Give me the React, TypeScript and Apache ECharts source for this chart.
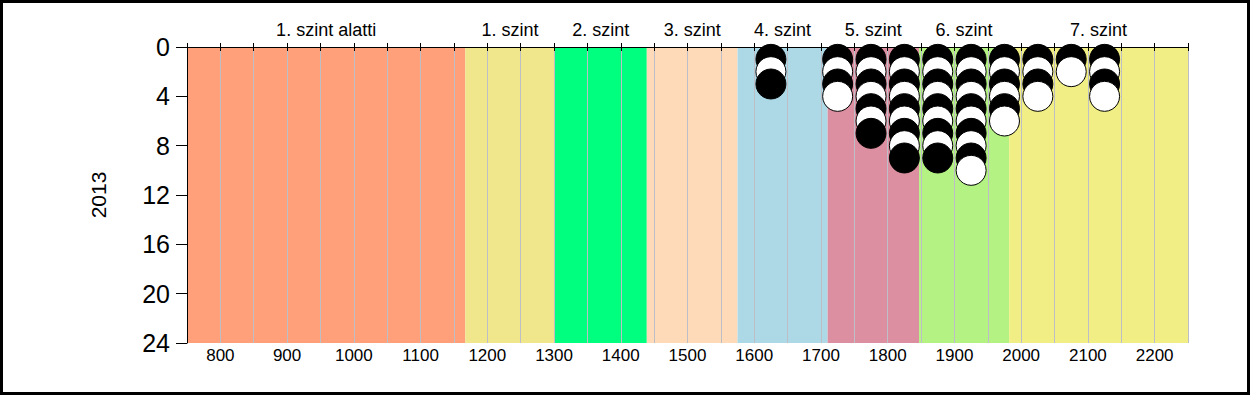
import React, { useEffect, useRef } from "react";
import * as echarts from "echarts";

const bandNames = ["1. szint alatti", "1. szint", "2. szint", "3. szint", "4. szint", "5. szint", "6. szint", "7. szint"];
const bandStarts = [750, 1167, 1301, 1439, 1575, 1710, 1847, 1982];
const bandEnds = [1167, 1301, 1439, 1575, 1710, 1847, 1982, 2250];
const bandColors = ["#FFA07A", "#F0E68C", "#00FF7F", "#FFDAB9", "#ADD8E6", "#DB8FA0", "#B4F284", "#F0EE84"];

const pointX = [1625, 1725, 1775, 1825, 1875, 1925, 1975, 2025, 2075, 2125];
const pointCounts = [3, 4, 7, 9, 9, 10, 6, 4, 2, 4];

const yTicks = [0, 4, 8, 12, 16, 20, 24];
const yearLabel = "2013";

const FONT = "Liberation Sans, Arial, sans-serif";

export default function App() {
  const ref = useRef<HTMLDivElement>(null);
  useEffect(() => {
    if (!ref.current) return;
    const chart = echarts.init(ref.current, undefined, { renderer: "svg" });

    const bandData = bandNames.map((n, i) => [bandStarts[i], bandEnds[i], i]);
    const points: any[] = [];
    pointX.forEach((x, i) => {
      for (let k = 1; k <= pointCounts[i]; k++) {
        points.push({
          value: [x, k],
          itemStyle: { color: k % 2 === 1 ? "#000000" : "#FFFFFF" },
        });
      }
    });

    const option: any = {
      animation: false,
      backgroundColor: "#FFFFFF",
      grid: { left: 187, top: 47, right: 62, bottom: 52, containLabel: false },
      xAxis: [
        {
          type: "value",
          position: "bottom",
          min: 750,
          max: 2250,
          interval: 50,
          z: 2,
          axisLine: { show: true, lineStyle: { color: "#000", width: 1 } },
          axisTick: { show: true, inside: false, length: 4, lineStyle: { color: "#000" } },
          axisLabel: {
            show: true,
            margin: 4,
            color: "#000",
            fontSize: 17,
            fontFamily: FONT,
            formatter: (v: number) => (v % 100 === 0 ? String(v) : ""),
          },
          splitLine: { show: true, lineStyle: { color: "#BEBEC6", width: 1 } },
        },
        {
          type: "value",
          position: "top",
          min: 750,
          max: 2250,
          interval: 50,
          z: 2,
          axisLine: { show: true, lineStyle: { color: "#000", width: 1 } },
          axisTick: { show: true, inside: false, length: 4, lineStyle: { color: "#000" } },
          axisLabel: { show: false },
          splitLine: { show: false },
        },
      ],
      yAxis: {
        type: "value",
        inverse: true,
        min: yTicks[0],
        max: yTicks[yTicks.length - 1],
        interval: 4,
        z: 2,
        name: yearLabel,
        nameLocation: "middle",
        nameRotate: 90,
        nameGap: 78,
        nameTextStyle: { color: "#000", fontSize: 21, fontFamily: FONT },
        axisLine: { show: true, lineStyle: { color: "#000", width: 1 } },
        axisTick: { show: true, inside: false, length: 11, lineStyle: { color: "#000" } },
        axisLabel: { margin: 17, color: "#000", fontSize: 25, fontFamily: FONT },
        splitLine: { show: false },
      },
      series: [
        {
          type: "custom",
          z: 1,
          xAxisIndex: 0,
          yAxisIndex: 0,
          data: bandData,
          silent: true,
          renderItem: (params: any, api: any) => {
            const s = api.value(0);
            const e = api.value(1);
            const idx = api.value(2);
            const p0 = api.coord([s, yTicks[0]]);
            const p1 = api.coord([e, yTicks[yTicks.length - 1]]);
            return {
              type: "group",
              children: [
                {
                  type: "rect",
                  shape: { x: p0[0], y: p0[1], width: p1[0] - p0[0], height: p1[1] - p0[1] },
                  style: { fill: bandColors[idx] },
                },
                {
                  type: "text",
                  x: (p0[0] + p1[0]) / 2,
                  y: p0[1] - 17,
                  style: {
                    text: bandNames[idx],
                    align: "center",
                    verticalAlign: "middle",
                    fontSize: 18,
                    fontFamily: FONT,
                    fill: "#000",
                  },
                },
              ],
            };
          },
        },
        {
          type: "scatter",
          z: 3,
          xAxisIndex: 0,
          yAxisIndex: 0,
          symbol: "circle",
          symbolSize: 30,
          itemStyle: { borderColor: "#000", borderWidth: 1, opacity: 1 },
          data: points,
        },
      ],
    };
    chart.setOption(option);
    return () => chart.dispose();
  }, []);

  return (
    <div style={{ position: "fixed", left: 0, top: 0, width: 1250, height: 395, background: "#fff" }}>
      <div ref={ref} style={{ position: "absolute", left: 0, top: 0, width: 1250, height: 395 }} />
      <div
        style={{
          position: "absolute",
          left: 0,
          top: 0,
          width: 1250,
          height: 395,
          boxSizing: "border-box",
          border: "3px solid #000",
          pointerEvents: "none",
        }}
      />
    </div>
  );
}
